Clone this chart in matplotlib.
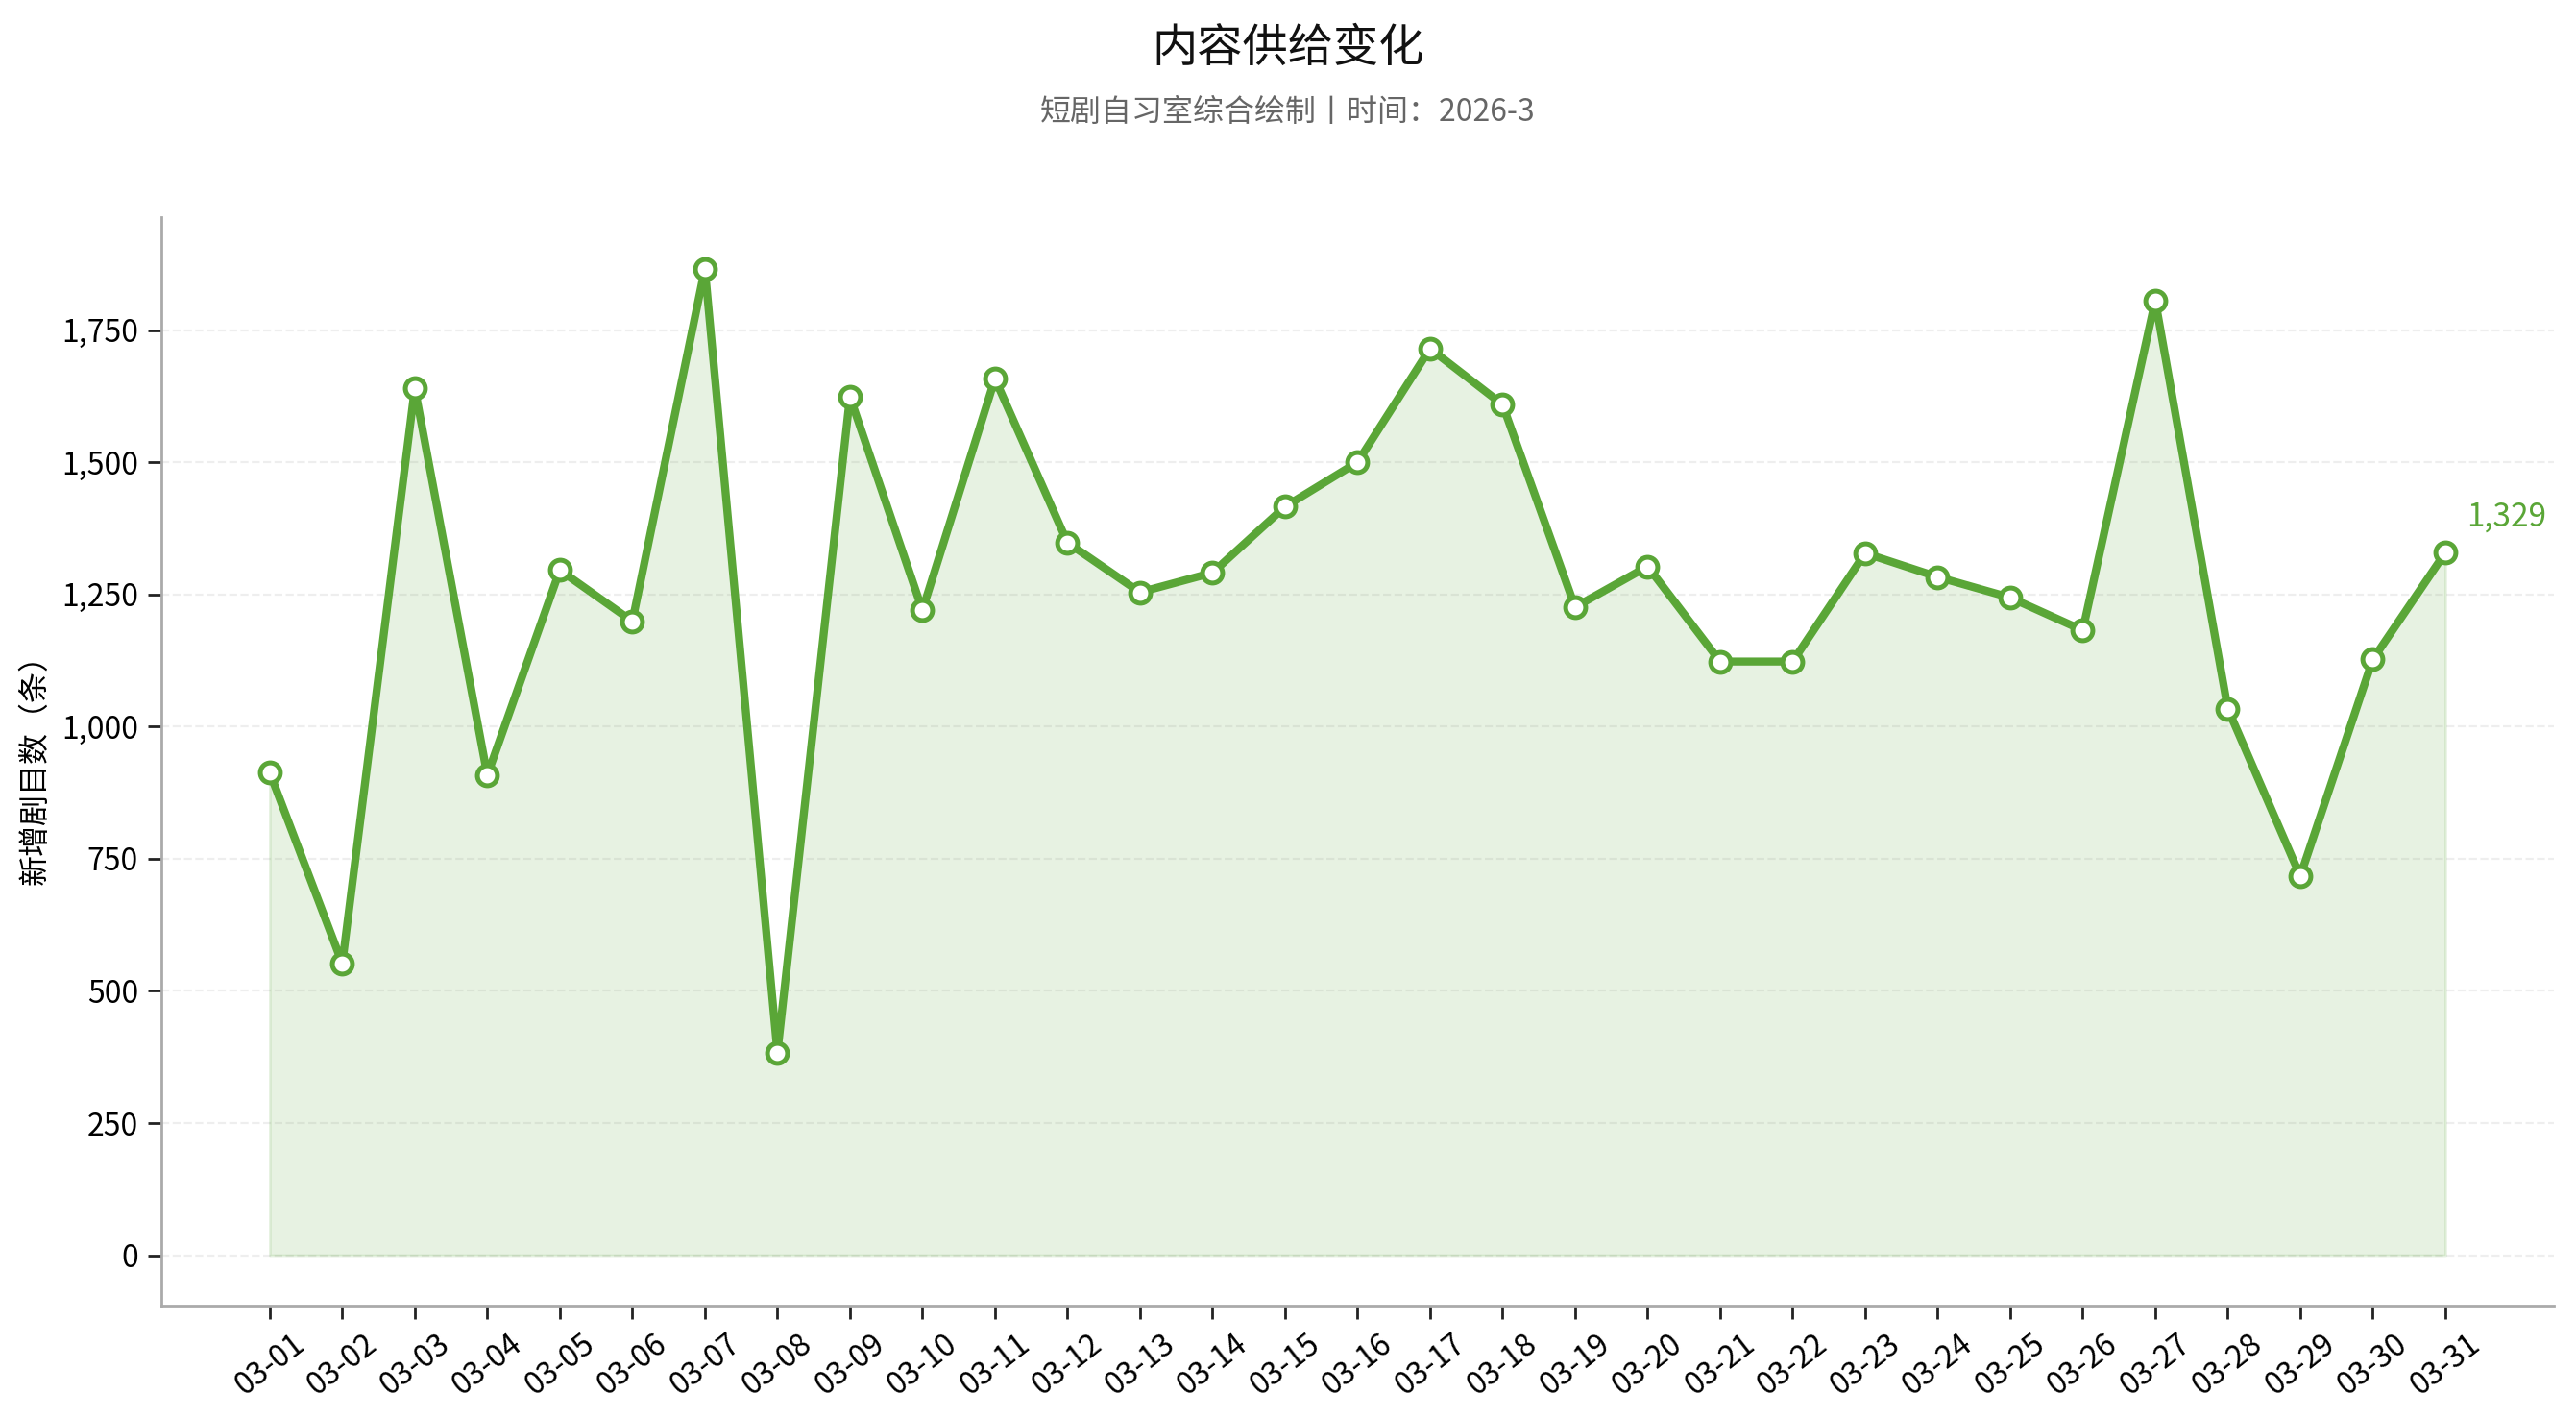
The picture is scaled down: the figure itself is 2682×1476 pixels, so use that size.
import matplotlib
matplotlib.use("Agg")
import matplotlib.pyplot as plt
from matplotlib.ticker import FuncFormatter, MultipleLocator

plt.rcParams['font.family'] = ['Noto Sans CJK SC', 'DejaVu Sans']

dates = [f"03-{d:02d}" for d in range(1, 32)]
values = [913, 552, 1640, 908, 1296, 1199, 1866, 383, 1624, 1220,
          1658, 1348, 1254, 1291, 1416, 1500, 1715, 1609, 1226, 1303,
          1123, 1123, 1328, 1283, 1244, 1182, 1806, 1034, 717, 1127, 1329]

title = "内容供给变化"
subtitle = "短剧自习室综合绘制丨时间：2026-3"
ylabel = "新增剧目数（条）"

green = "#5aa637"

fig = plt.figure(figsize=(13.41, 7.38), dpi=200)
ax = fig.add_axes([0.0625, 0.079, 0.929, 0.768])

x = list(range(len(values)))
ax.fill_between(x, values, 0, color=green, alpha=0.14, linewidth=1.0, edgecolor=(0.35, 0.65, 0.22, 0.18))
ax.plot(x, values, color=green, linewidth=3.0, marker='o', markersize=7.5,
        markerfacecolor='white', markeredgecolor=green, markeredgewidth=1.8, zorder=3)

ax.annotate(f"{values[-1]:,}", xy=(x[-1], values[-1]), xytext=(8, 7),
            textcoords='offset points', color=green, fontsize=12, ha='left', va='bottom')

ax.set_xlim(-1.5, len(values) + 0.5)
ax.set_ylim(-96, 1964)
ax.yaxis.set_major_locator(MultipleLocator(250))
ax.yaxis.set_major_formatter(FuncFormatter(lambda v, p: f"{int(v):,}"))
ax.set_xticks(x)
ax.set_xticklabels(dates, rotation=38, ha='center', fontsize=11.5)
ax.tick_params(axis='y', labelsize=11.5)
ax.tick_params(axis='both', color='#222222', length=5, width=1)

ax.grid(axis='y', linestyle='--', color='#eeeeee', linewidth=0.8)
ax.set_axisbelow(True)
for s in ['top', 'right']:
    ax.spines[s].set_visible(False)
for s in ['left', 'bottom']:
    ax.spines[s].set_color('#aaaaaa')
    ax.spines[s].set_linewidth(1.0)

ax.set_ylabel(ylabel, fontsize=11.5)

fig.text(0.5, 0.966, title, ha='center', va='center', fontsize=17, color='#111111')
fig.text(0.5, 0.921, subtitle, ha='center', va='center', fontsize=11.5, color='#666666')

fig.savefig("out.png", dpi=200, facecolor='white')
